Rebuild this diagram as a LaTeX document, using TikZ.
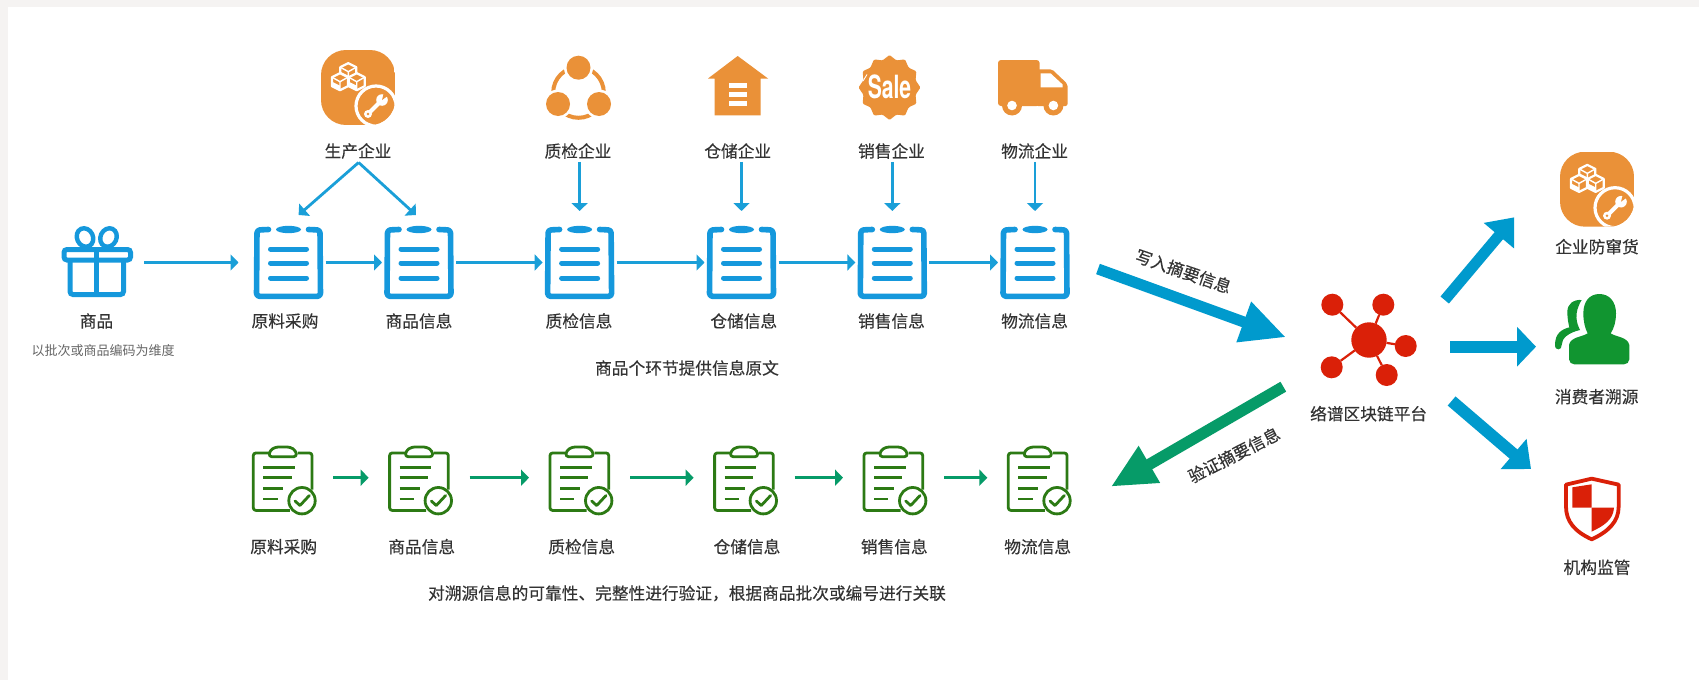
\documentclass[tikz,border=0pt]{standalone}
\usepackage{fontspec}
\usetikzlibrary{arrows.meta,calc}
\newfontfamily\cjk[FakeBold=0.3]{Noto Sans CJK SC}
\newfontfamily\cjksmall{Noto Sans CJK SC}
\newfontfamily\saleface{TeX Gyre Heros}
\definecolor{bgedge}{HTML}{F5F3F2}
\definecolor{iconblue}{HTML}{1598DC}
\definecolor{lineblue}{HTML}{1A9FD8}
\definecolor{bigblue}{HTML}{009ACD}
\definecolor{bigteal}{HTML}{069B68}
\definecolor{darkgreen}{HTML}{2C7A14}
\definecolor{persongreen}{HTML}{119530}
\definecolor{iconorange}{HTML}{EA9138}
\definecolor{iconred}{HTML}{DA2008}
\definecolor{txt}{HTML}{333333}
\definecolor{smalltxt}{HTML}{666666}
\tikzset{
  x=1pt,y=-1pt,
  lbl/.style={font=\cjk\fontsize{16.7}{20}\selectfont,text=txt,inner sep=0pt,anchor=center},
  smalllbl/.style={font=\cjksmall\fontsize{13}{16}\selectfont,text=smalltxt,inner sep=0pt},
  clipnode/.style={minimum width=74pt,minimum height=73pt,inner sep=0pt,outer sep=0pt},
  gclipnode/.style={minimum width=101pt,minimum height=66pt,inner sep=0pt,outer sep=0pt},
  thinblue/.style={draw=lineblue,line width=2.8pt,-{Triangle[length=8pt,width=16pt]}},
  thinteal/.style={draw=bigteal,line width=3pt,-{Triangle[length=8pt,width=16pt]}},
  bigarrow/.style n args={4}{draw=#1,line width=#2pt,-{Triangle[length=#3pt,width=#4pt]}},
  satellite/.style={circle,fill=iconred,minimum size=22pt,inner sep=0pt,outer sep=0pt},
  blueclip/.pic={
    \draw[iconblue,line width=5.6pt,line cap=round,line join=round,rounded corners=3pt]
      (-20,-33)--(-31.5,-32.5)--(-32,33.8)--(32,33.8)--(31.5,-32.5)--(20,-33);
    \fill[iconblue] (0,-33) ellipse[x radius=12.5pt,y radius=3.7pt];
    \foreach \yy in {-13.5,0.5,15.5}{
      \draw[iconblue,line width=5pt,line cap=round] (-18,\yy)--(18,\yy);}
  },
  greenclip/.pic={
    \draw[darkgreen,line width=2.8pt,line join=round,rounded corners=2.5pt]
      (-14,-28.7)--(-29.5,-28.7)--(-29.5,28.7)--(7,28.7);
    \draw[darkgreen,line width=2.8pt,line join=round,rounded corners=2.5pt]
      (15,-28.7)--(29.2,-28.7)--(29.2,8);
    \draw[darkgreen,line width=2.8pt,line join=round,rounded corners=3pt,fill=white]
      (-14,-25)--(-13,-31)--(-7.5,-34.7)--(7.5,-34.7)--(13,-31)--(14,-25)--cycle;
    \foreach \xx/\yy in {12.2/-14,8.8/-4,0.5/6.6,-5.1/17.3}{
      \draw[darkgreen,line width=2.8pt] (-19.5,\yy)--(\xx,\yy);}
    \draw[darkgreen,line width=2.8pt,fill=white] (19.2,19) circle[radius=13.2pt];
    \draw[darkgreen,line width=2.8pt,line cap=round,line join=round]
      (12.2,19.3)--(17.2,23.8)--(26.5,13.8);
  },
  factory/.pic={
    \begin{scope}
    \path[clip,rounded corners=25pt] (0,0) rectangle (74,75);
    \fill[iconorange] (0,0) rectangle (74,75);
    \draw[white,line width=3.2pt,fill=iconorange] (55,56) circle[radius=20pt];
    \end{scope}
    \foreach \cx/\cy in {27.3/21.7,19/31.7,35.7/31.7}{
      \begin{scope}[shift={(\cx,\cy)}]
      \draw[white,line width=2.2pt,line join=round,fill=iconorange]
        (0,-8.5)--(8,-4.5)--(8,4.5)--(0,8.5)--(-8,4.5)--(-8,-4.5)--cycle;
      \draw[white,line width=1.4pt,line join=round] (-8,-4.5)--(0,0)--(8,-4.5) (0,0)--(0,8.5);
      \fill[white] (-8,0)--(0,4)--(0,8)--(-8,4)--cycle;
      \end{scope}}
    \begin{scope}[shift={(55,56)}]
      \draw[white,line width=4pt,line cap=round] (-7,7)--(4,-4);
      \fill[white] (6,-6) circle[radius=5.8pt];
      \fill[iconorange] (6,-6) -- (13,-11) -- (8,-14) -- cycle;
      \fill[white] (-8,8) circle[radius=4pt];
      \fill[iconorange] (-8,8) circle[radius=1.4pt];
    \end{scope}
  },
}
\begin{document}
\begin{tikzpicture}
\useasboundingbox (0,0) rectangle (1699,680);
\fill[bgedge] (0,0) rectangle (1699,680);
\fill[white] (8,7) rectangle (1699,680);

% ---- top row nodes
\node[clipnode] (c1) at (288.5,262.5) {};
\node[clipnode] (c2) at (419,262.5) {};
\node[clipnode] (c3) at (579.6,262.5) {};
\node[clipnode] (c4) at (741.5,262.5) {};
\node[clipnode] (c5) at (892.3,262.5) {};
\node[clipnode] (c6) at (1035,262.5) {};
\pic at (c1) {blueclip};
\pic at (c2) {blueclip};
\pic at (c3) {blueclip};
\pic at (c4) {blueclip};
\pic at (c5) {blueclip};
\pic at (c6) {blueclip};

\node[minimum width=94pt,minimum height=70pt,inner sep=0pt] (gift) at (97,262.5) {};
\draw[iconblue,line width=5pt,rounded corners=3pt] (64,249.5) rectangle (130.5,260);
\draw[iconblue,line width=5pt,rounded corners=3pt] (70,260)--(70,294.5)--(123.5,294.5)--(123.5,260);
\draw[iconblue,line width=4.6pt] (96.5,249)--(96.5,295);
\draw[iconblue,line width=4.4pt] (85,237.5) ellipse[x radius=8pt,y radius=9.5pt,rotate=25];
\draw[iconblue,line width=4.4pt] (108.5,237.5) ellipse[x radius=8pt,y radius=9.5pt,rotate=-25];

\node[lbl] (lgift) at (96.5,321) {商品};
\node[smalllbl] (lsub) at (103,351) {以批次或商品编码为维度};
\node[lbl] (l1) at (285,321) {原料采购};
\node[lbl] (l2) at (419,321) {商品信息};
\node[lbl] (l3) at (579,321) {质检信息};
\node[lbl] (l4) at (743.8,321) {仓储信息};
\node[lbl] (l5) at (891.5,321) {销售信息};
\node[lbl] (l6) at (1034.6,321) {物流信息};
\node[lbl] (top1) at (358,151) {生产企业};
\node[lbl] (top3) at (578,151) {质检企业};
\node[lbl] (top4) at (737.7,151) {仓储企业};
\node[lbl] (top5) at (891.5,151) {销售企业};
\node[lbl] (top6) at (1034.6,151) {物流企业};
\node[lbl] (capt1) at (687,368) {商品个环节提供信息原文};

% ---- top icons
\pic at (321,50) {factory};
% quality
\draw[iconorange,line width=4pt] (578.5,92.5) circle[radius=25.3pt];
\foreach \cx/\cy in {578.5/67.7,558/104,599/104}{
  \fill[white] (\cx,\cy) circle[radius=14.5pt];
  \fill[iconorange] (\cx,\cy) circle[radius=12pt];}
% warehouse
\fill[iconorange] (737.7,56)--(768,78.5)--(760.6,78.5)--(760.6,115.3)--(714.7,115.3)--(714.7,78.5)--(708,78.5)--cycle;
\fill[white] (728.5,83.3) rectangle (747,88.3);
\fill[white] (728.5,91.7) rectangle (747,96.7);
\fill[white] (728.5,101) rectangle (747,106);
% sale
\fill[iconorange,rounded corners=1.2pt]
  (889.5,55) \foreach \a in {15,30,...,345}{
    -- ({889.5+(mod(\a,30)==0 ? 31 : 27)*sin(\a)},{87.5-(mod(\a,30)==0 ? 32.5 : 28)*cos(\a)})} -- cycle;
\node[inner sep=0pt,text=white,font=\saleface\bfseries\fontsize{32}{32}\selectfont,xscale=.66] (st) at (889.5,86.5) {Sale};
\draw[white,line width=.9pt] (863,81)--(867,74.5);
% truck
\fill[iconorange,rounded corners=3pt] (998,60)--(1039.6,60)--(1039.6,106)--(998,106)--cycle;
\fill[iconorange,rounded corners=2pt] (1036,69.3)--(1052,69.3)--(1067.5,84)--(1067.5,106)--(1036,106)--cycle;
\fill[white] (1040.5,73.3)--(1050.5,73.3)--(1062.6,84.5)--(1062.6,87.3)--(1040.5,87.3)--cycle;
\foreach \wx in {1012,1053.4}{
  \fill[iconorange] (\wx,105.5) circle[radius=10pt];
  \fill[white] (\wx,105.5) circle[radius=4.8pt];}

% ---- top connectors
\draw[thinblue,shorten >=13pt] (gift.east)--(c1.west);
\draw[thinblue] (c1.east)--(c2.west);
\draw[thinblue] (c2.east)--(c3.west);
\draw[thinblue] (c3.east)--(c4.west);
\draw[thinblue] (c4.east)--(c5.west);
\draw[thinblue] (c5.east)--(c6.west);
\coordinate (apex) at (358.6,162.5);
\coordinate (tipL) at (298.6,215);
\coordinate (tipR) at (416,215);
\draw[thinblue] (apex)--(tipL);
\draw[thinblue] (apex)--(tipR);
\draw[thinblue,shorten <=3pt,shorten >=15pt] (top3.south -| c3)--(c3.north);
\draw[thinblue,shorten <=3pt,shorten >=15pt] (top4.south -| c4)--(c4.north);
\draw[thinblue,shorten <=3pt,shorten >=15pt] (top5.south -| c5)--(c5.north);
\draw[thinblue,shorten <=3pt,shorten >=15pt] (top6.south -| c6)--(c6.north);

% ---- bottom row
\node[gclipnode] (g1) at (282.8,477.7) {};
\node[gclipnode] (g2) at (419.1,477.7) {};
\node[gclipnode] (g3) at (579.5,477.7) {};
\node[gclipnode] (g4) at (744.1,477.7) {};
\node[gclipnode] (g5) at (893.5,477.7) {};
\node[gclipnode] (g6) at (1037.8,477.7) {};
\pic at ($(g1)+(0,4)$) {greenclip};
\pic at ($(g2)+(0,4)$) {greenclip};
\pic at ($(g3)+(0,4)$) {greenclip};
\pic at ($(g4)+(0,4)$) {greenclip};
\pic at ($(g5)+(0,4)$) {greenclip};
\pic at ($(g6)+(0,4)$) {greenclip};
\draw[thinteal] (g1.east)--(g2.west);
\draw[thinteal] (g2.east)--(g3.west);
\draw[thinteal] (g3.east)--(g4.west);
\draw[thinteal] (g4.east)--(g5.west);
\draw[thinteal] (g5.east)--(g6.west);
\node[lbl] (b1) at (283.7,546.7) {原料采购};
\node[lbl] (b2) at (421.7,546.7) {商品信息};
\node[lbl] (b3) at (581.7,546.7) {质检信息};
\node[lbl] (b4) at (747,546.7) {仓储信息};
\node[lbl] (b5) at (894.3,546.7) {销售信息};
\node[lbl] (b6) at (1037.7,546.7) {物流信息};
\node[lbl] (capt2) at (687,593.3) {对溯源信息的可靠性、完整性进行验证，根据商品批次或编号进行关联};

% ---- platform
\node[circle,fill=iconred,minimum size=35.4pt,inner sep=0pt,outer sep=0pt] (hub) at (1369,340) {};
\node[satellite] (s1) at (1332.3,304.7) {};
\node[satellite] (s2) at (1383.3,304.7) {};
\node[satellite] (s3) at (1405.7,346) {};
\node[satellite] (s4) at (1331.7,367.3) {};
\node[satellite] (s5) at (1386.7,375) {};
\draw[iconred,line width=2.2pt] (hub)--(s1) (hub)--(s2) (hub)--(s3) (hub)--(s4) (hub)--(s5);
\node[lbl] (lhub) at (1368.6,413.7) {络谱区块链平台};

% ---- big arrows
\coordinate (wa) at (1098,269);
\coordinate (wb) at (1286,337.3);
\draw[bigarrow={bigblue}{11}{45}{40}] (wa)--(wb);
\node[lbl,rotate=-19] (lw) at (1183.4,271.3) {写入摘要信息};
\coordinate (va) at (1283.3,386.7);
\coordinate (vb) at (1110.8,486.7);
\draw[bigarrow={bigteal}{11.4}{44.6}{39.4}] (va)--(vb);
\node[lbl,rotate=27] (lv) at (1234,455) {验证摘要信息};
\coordinate (ua) at (1444.7,300);
\coordinate (ub) at (1514.3,217.3);
\draw[bigarrow={bigblue}{11}{24}{38}] (ua)--(ub);
\coordinate (ra) at (1450,346.7);
\coordinate (rb) at (1536,346.7);
\draw[bigarrow={bigblue}{12}{19}{38.7}] (ra)--(rb);
\coordinate (da) at (1451.6,401);
\coordinate (db) at (1531,469);
\draw[bigarrow={bigblue}{12}{23}{38.5}] (da)--(db);

% ---- right column
\pic at (1560,151.7) {factory};
\node[lbl] (r1) at (1597,246.7) {企业防窜货};
\node[lbl] (r2) at (1596.7,396.7) {消费者溯源};
\node[lbl] (r3) at (1597,567.3) {机构监管};
\begin{scope}[shift={(1540,280)},x=.3333pt,y=-.3333pt]
  \fill[persongreen]
    (178,42) .. controls (208,42) and (228,65) .. (228,100)
    .. controls (228,125) and (222,145) .. (212,160)
    .. controls (230,172) and (262,170) .. (268,195)
    -- (268,238) .. controls (268,247) and (260,253) .. (252,253)
    -- (103,253) .. controls (95,253) and (87,247) .. (87,238)
    -- (87,195) .. controls (92,170) and (125,172) .. (143,160)
    .. controls (135,145) and (130,125) .. (130,100)
    .. controls (130,65) and (148,42) .. (178,42) -- cycle;
  \fill[persongreen]
    (125,60) .. controls (100,58) and (82,72) .. (82,95)
    .. controls (82,115) and (85,130) .. (88,142)
    .. controls (65,148) and (45,160) .. (45,195)
    .. controls (45,205) and (50,208) .. (55,208)
    .. controls (62,208) and (65,203) .. (65,195)
    .. controls (65,175) and (85,158) .. (120,150)
    .. controls (110,130) and (100,100) .. (125,60) -- cycle;
  % shield
  \draw[iconred,line width=3.8pt,fill=white,line join=round]
    (155,596) -- (236,614) -- (236,680)
    .. controls (236,725) and (205,755) .. (155,778)
    .. controls (105,755) and (78,725) .. (78,680)
    -- (78,614) -- cycle;
  \fill[iconred] (97,622)--(155,613)--(155,683)--(97,683)--cycle;
  \fill[iconred] (155,683)--(222,683) .. controls (220,720) and (190,738) .. (155,755) -- cycle;
\end{scope}
\end{tikzpicture}
\end{document}
